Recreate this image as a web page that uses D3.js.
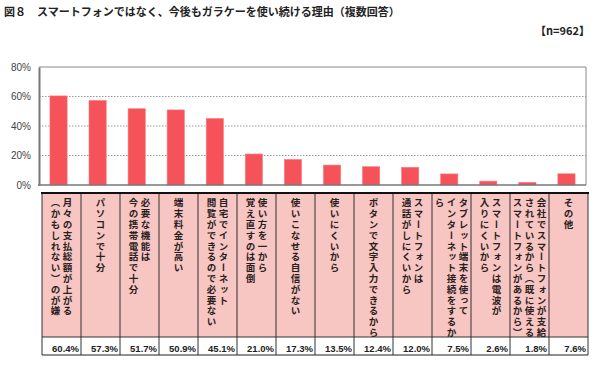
<!DOCTYPE html>
<html>
<head>
<meta charset="utf-8">
<script src="https://cdn.jsdelivr.net/npm/d3@7"></script>
<style>
  body { margin: 0; background: #fff; }
  svg { display: block; font-family: "Noto Sans CJK JP", "Noto Sans", sans-serif; }
  .vt { writing-mode: vertical-rl; }
</style>
</head>
<body>
<div id="chart"></div>
<script>
// data
var title = "図８　スマートフォンではなく、今後もガラケーを使い続ける理由（複数回答）";
var sampleLabel = "【n=962】";
var labels = [
  ["月々の支払総額が上がる", "（かもしれない）のが嫌"],
  ["パソコンで十分"],
  ["必要な機能は", "今の携帯電話で十分"],
  ["端末料金が高い"],
  ["自宅でインターネット", "閲覧ができるので必要ない"],
  ["使い方を一から", "覚え直すのは面倒"],
  ["使いこなせる自信がない"],
  ["使いにくいから"],
  ["ボタンで文字入力できるから"],
  ["スマートフォンは", "通話がしにくいから"],
  ["タブレット端末を使って", "インターネット接続をするか", "ら"],
  ["スマートフォンは電波が", "入りにくいから"],
  ["会社でスマートフォンが支給", "されているから（既に使える", "スマートフォンがあるから）"],
  ["その他"]
];
var values = [60.4, 57.3, 51.7, 50.9, 45.1, 21.0, 17.3, 13.5, 12.4, 12.0, 7.5, 2.6, 1.8, 7.6];
var yTicks = [0, 20, 40, 60, 80];

var W = 600, H = 365;
var svg = d3.select("#chart").append("svg")
  .attr("width", W)
  .attr("height", H);

// title
svg.append("text")
  .attr("x", 4).attr("y", 16)
  .attr("font-size", 11).attr("font-weight", "bold").attr("fill", "#222")
  .text(title);
svg.append("text")
  .attr("x", 590).attr("y", 35)
  .attr("text-anchor", "end")
  .attr("font-size", 11).attr("font-weight", "bold").attr("fill", "#222")
  .text(sampleLabel);

// scales
var idx = d3.range(values.length);
var x = d3.scaleBand().domain(idx).range([39, 586]).paddingInner(0.56).paddingOuter(0.28);
var y = d3.scaleLinear().domain([0, 80]).range([185, 67]);
var col = d3.scaleBand().domain(idx).range([42, 588]);

// gridlines
svg.append("g").selectAll("line")
  .data(yTicks.filter(function(d) { return d > 0 && d < 80; }))
  .enter().append("line")
  .attr("x1", 39).attr("x2", 586)
  .attr("y1", function(d) { return y(d); })
  .attr("y2", function(d) { return y(d); })
  .attr("stroke", "#999").attr("stroke-width", 1).attr("stroke-dasharray", "1.5,1.5");

// frame (top + right)
svg.append("path")
  .attr("d", "M39," + y(80) + "H586V" + y(0))
  .attr("fill", "none").attr("stroke", "#888").attr("stroke-width", 1);

// bars
svg.append("g").selectAll("rect")
  .data(values)
  .enter().append("rect")
  .attr("x", function(d, i) { return x(i); })
  .attr("y", function(d) { return y(d); })
  .attr("width", x.bandwidth())
  .attr("height", function(d) { return y(0) - y(d); })
  .attr("fill", "#f55259")
  .attr("stroke", "#f87a7f").attr("stroke-width", 0.6);

// axes
var yAxis = d3.axisLeft(y).tickValues(yTicks).tickSize(0).tickPadding(8)
  .tickFormat(function(d) { return d + "%"; });
var gy = svg.append("g").attr("transform", "translate(39,0)").call(yAxis);
gy.select(".domain").attr("stroke", "#777").attr("stroke-width", 2);
gy.selectAll("text").attr("font-size", 10).attr("fill", "#444")
  .attr("font-family", "'Liberation Sans', Arial, sans-serif");

svg.append("line")
  .attr("x1", 38).attr("x2", 586)
  .attr("y1", y(0)).attr("y2", y(0))
  .attr("stroke", "#777").attr("stroke-width", 1.5);

// table
var tTop = 193, tMid = 337, tBot = 355;
var table = svg.append("g");

table.selectAll("rect.cell")
  .data(idx)
  .enter().append("rect")
  .attr("class", "cell")
  .attr("x", function(d) { return col(d); })
  .attr("y", tTop)
  .attr("width", col.bandwidth())
  .attr("height", tMid - tTop)
  .attr("fill", "#f7c5c2");

// vertical text labels
var lineGap = 12;
labels.forEach(function(lines, i) {
  var cx = col(i) + col.bandwidth() / 2;
  var n = lines.length;
  lines.forEach(function(s, j) {
    var lx = cx + ((n - 1) / 2 - j) * lineGap;
    table.append("text")
      .attr("class", "vt")
      .attr("x", lx)
      .attr("y", tTop + 5)
      .attr("font-size", 9.5)
      .attr("font-weight", "bold")
      .attr("letter-spacing", 1.3)
      .attr("fill", "#2a2020")
      .text(s);
  });
});

// values row
table.selectAll("text.val")
  .data(values)
  .enter().append("text")
  .attr("class", "val")
  .attr("x", function(d, i) { return col(i) + col.bandwidth() - 2; })
  .attr("y", 352)
  .attr("text-anchor", "end")
  .attr("font-size", 9.5)
  .attr("font-weight", "bold")
  .attr("font-family", "'Liberation Sans', Arial, sans-serif")
  .attr("fill", "#222")
  .text(function(d) { return d.toFixed(1) + "%"; });

// borders
table.selectAll("line.v")
  .data(d3.range(values.length + 1))
  .enter().append("line")
  .attr("class", "v")
  .attr("x1", function(d) { return d < values.length ? col(d) : 588; })
  .attr("x2", function(d) { return d < values.length ? col(d) : 588; })
  .attr("y1", tTop).attr("y2", tBot)
  .attr("stroke", "#333").attr("stroke-width", 1);

table.append("line")
  .attr("x1", 41).attr("x2", 589).attr("y1", tTop).attr("y2", tTop)
  .attr("stroke", "#111").attr("stroke-width", 2);
table.append("line")
  .attr("x1", 42).attr("x2", 588).attr("y1", tMid).attr("y2", tMid)
  .attr("stroke", "#333").attr("stroke-width", 1);
table.append("line")
  .attr("x1", 42).attr("x2", 588).attr("y1", tBot).attr("y2", tBot)
  .attr("stroke", "#222").attr("stroke-width", 1.2);
</script>
</body>
</html>
